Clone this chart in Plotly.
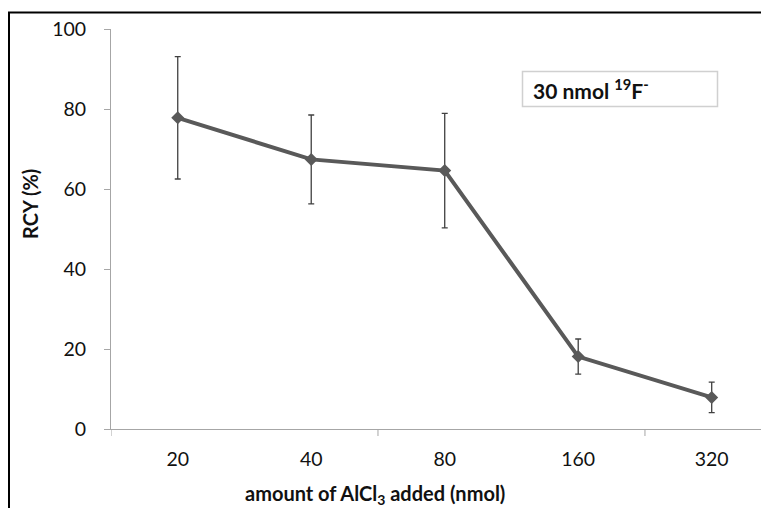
import plotly.graph_objects as go

categories = ["20", "40", "80", "160", "320"]
rcy = [77.8, 67.4, 64.6, 18.1, 7.9]
rcy_err = [15.3, 11.1, 14.3, 4.4, 3.8]
y_ticks = [0, 20, 40, 60, 80, 100]

# page body has an 8px margin; work in reference pixel coords and shift
OFF = 8
W, H = 769 - OFF, 508 - OFF
L, T = 111 - OFF, 29 - OFF
PLOT_BOTTOM = 429 - OFF
R, B = 0, H - PLOT_BOTTOM
pw, ph = W - L - R, PLOT_BOTTOM - T

def px_x(px):
    return (px - OFF - L) / pw

def px_y(py):
    return (PLOT_BOTTOM - (py - OFF)) / ph

xpos = list(range(len(categories)))

fig = go.Figure()
fig.add_trace(go.Scatter(
    x=xpos, y=rcy, mode="lines+markers",
    line=dict(color="#595959", width=4),
    marker=dict(symbol="diamond", size=10, color="#595959"),
    error_y=dict(type="data", array=rcy_err, visible=True,
                 color="#404040", thickness=1.3, width=3),
    showlegend=False,
))

font = "Lato, 'Open Sans', sans-serif"

fig.update_layout(
    width=W, height=H,
    margin=dict(l=L, r=R, t=T, b=B),
    paper_bgcolor="white", plot_bgcolor="white",
    font=dict(family=font, size=19.5, color="#111"),
    xaxis=dict(
        range=[-0.5, (769 - 177.7) / 133.5],
        tickvals=xpos, ticktext=categories,
        showgrid=False, zeroline=False,
        showline=True, linecolor="#a6a6a6", linewidth=1,
        ticks="", ticklabelstandoff=13,
        tickfont=dict(size=19.5),
    ),
    yaxis=dict(
        range=[0, 100], tickvals=y_ticks,
        showgrid=False, zeroline=False,
        showline=True, linecolor="#a6a6a6", linewidth=1,
        ticks="outside", ticklen=6, tickcolor="#a6a6a6",
        ticklabelstandoff=14,
        tickfont=dict(size=19.5),
    ),
)

shapes = []
# category boundary tick marks every two categories
for i in range(0, len(categories) + 1, 2):
    shapes.append(dict(type="line", xref="x", yref="paper",
                       x0=i - 0.5, x1=i - 0.5, y0=0, y1=-7 / ph,
                       line=dict(color="#a6a6a6", width=1)))
# outer frame (left + top)
shapes.append(dict(type="line", xref="paper", yref="paper",
                   x0=px_x(9), x1=px_x(9), y0=px_y(12), y1=px_y(520),
                   line=dict(color="black", width=2)))
shapes.append(dict(type="line", xref="paper", yref="paper",
                   x0=px_x(8), x1=px_x(780), y0=px_y(12.5), y1=px_y(12.5),
                   line=dict(color="black", width=2)))
# label box
shapes.append(dict(type="rect", xref="paper", yref="paper",
                   x0=px_x(522.5), x1=px_x(717.5), y0=px_y(71.5), y1=px_y(106.5),
                   line=dict(color="#d0d0d0", width=1.5), fillcolor="white",
                   layer="above"))
fig.update_layout(shapes=shapes)

fig.add_annotation(
    xref="paper", yref="paper", x=px_x(531), y=px_y(89),
    xanchor="left", yanchor="middle",
    text="<b>30 nmol <sup>19</sup>F<sup>-</sup></b>",
    showarrow=False, align="left",
    font=dict(size=21, color="#111"),
)
fig.add_annotation(
    xref="paper", yref="paper", x=px_x(375), y=px_y(494),
    xanchor="center", yanchor="middle",
    text="<b>amount of AlCl<sub>3</sub> added (nmol)</b>",
    showarrow=False, font=dict(size=20, color="#111"),
)
fig.add_annotation(
    xref="paper", yref="paper", x=px_x(30), y=px_y(204),
    xanchor="center", yanchor="middle", textangle=-90,
    text="<b>RCY (%)</b>",
    showarrow=False, font=dict(size=20, color="#111"),
)

fig.write_html("out.html")
